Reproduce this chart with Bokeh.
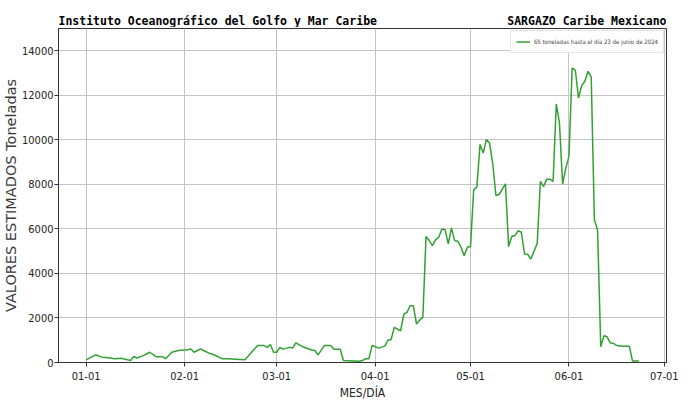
import datetime as dt
from bokeh.plotting import figure
from bokeh.layouts import column
from bokeh.models import (Range1d, Label, MonthsTicker, DatetimeTickFormatter,
                          FixedTicker, BasicTickFormatter, ColumnDataSource)
from bokeh.embed import file_html
from bokeh.resources import INLINE

# Days since 2024-01-01 and estimated tonnes
day_offsets = [0, 3, 5, 7, 9, 11, 14, 15, 16, 18, 20, 22, 24, 25, 27, 29, 32, 33, 34, 36,
               37, 39, 40, 43, 45, 47, 50, 54, 56, 57, 58, 59, 60, 61, 62, 64, 65, 66, 68, 71,
               72, 73, 75, 77, 78, 80, 81, 86, 87, 88, 89, 90, 91, 92, 94, 95, 96, 97, 99, 100,
               101, 102, 103, 104, 105, 106, 107, 108, 109, 110, 111, 112, 113, 114, 115, 116, 117, 118, 119, 120,
               121, 122, 123, 124, 125, 126, 127, 128, 129, 130, 132, 133, 134, 135, 136, 137, 138, 139, 140, 142,
               143, 144, 145, 146, 147, 148, 149, 150, 151, 152, 153, 154, 155, 156, 157, 158, 159, 160, 161, 162,
               163, 164, 165, 166, 167, 169, 171, 172, 174]
tonnes = [120, 345, 240, 210, 170, 190, 90, 270, 200, 310, 460, 260, 260, 170, 460, 540, 570, 610, 460, 610,
          540, 400, 360, 165, 165, 150, 120, 760, 760, 680, 810, 460, 460, 680, 600, 680, 650, 880, 720, 560,
          540, 340, 760, 760, 600, 600, 90, 60, 90, 170, 170, 760, 710, 645, 735, 1000, 1035, 1575, 1425, 2175,
          2250, 2550, 2550, 1725, 1905, 2025, 5655, 5475, 5250, 5505, 5625, 6000, 5970, 5325, 6045, 5475, 5450, 5175, 4800, 5175,
          5205, 7755, 7875, 9795, 9405, 10020, 9855, 8925, 7500, 7545, 8025, 5205, 5655, 5700, 5925, 5850, 4875, 4860, 4650, 5355,
          8130, 7905, 8235, 8235, 8130, 11610, 10755, 8010, 8730, 9255, 13230, 13125, 11880, 12435, 12630, 13080, 12825, 6405, 5955, 705,
          1200, 1155, 885, 855, 765, 735, 735, 65, 65]
y_ticks = [0, 2000, 4000, 6000, 8000, 10000, 12000, 14000]
title_left = "Instituto Oceanográfico del Golfo y Mar Caribe"
title_right = "SARGAZO Caribe Mexicano"
legend_text = "65 toneladas hasta el día 23 de junio de 2024"

start = dt.datetime(2024, 1, 1)
dates = [start + dt.timedelta(days=d) for d in day_offsets]
src = ColumnDataSource(dict(x=dates, y=tonnes))

NARROW = "'DejaVu Sans Condensed', 'Liberation Sans Narrow', sans-serif"
MONO = "'DejaVu Sans Mono', monospace"

W = 689
HEADER_H = 27

# ---- header with the two titles (frame aligned with the chart frame) ----
head = figure(width=W, height=HEADER_H, output_backend="svg", toolbar_location=None,
              x_range=Range1d(0, 1), y_range=Range1d(0, HEADER_H),
              min_border=0, outline_line_color=None)
head.axis.visible = False
head.grid.visible = False
head.add_layout(Label(x=0, y=7, text=title_left, text_align="left",
                      text_baseline="alphabetic", text_font=MONO, text_font_size="11.5px",
                      text_font_style="bold", text_color="black"))
head.add_layout(Label(x=1, y=7, text=title_right, text_align="right",
                      text_baseline="alphabetic", text_font=MONO, text_font_size="11.5px",
                      text_font_style="bold", text_color="black"))

# ---- main chart ----
p = figure(width=W, height=376, output_backend="svg", toolbar_location=None,
           x_axis_type="datetime",
           x_range=Range1d(start - dt.timedelta(days=8.7), start + dt.timedelta(days=182.7)),
           y_range=Range1d(0, 15000),
           min_border_left=57, min_border_right=23, min_border_top=1, min_border_bottom=41)

p.line("x", "y", source=src, line_color="#33a033", line_width=1.5, legend_label=legend_text)

p.xaxis.ticker = MonthsTicker(months=list(range(1, 13)))
p.xaxis.formatter = DatetimeTickFormatter(days="%m-%d", months="%m-%d", years="%m-%d")
p.yaxis.ticker = FixedTicker(ticks=y_ticks)
p.yaxis.formatter = BasicTickFormatter(use_scientific=False)

p.xaxis.axis_label = "MES/DÍA"
p.yaxis.axis_label = "VALORES ESTIMADOS Toneladas"
for ax in (p.xaxis, p.yaxis):
    ax.major_label_text_font = NARROW
    ax.major_label_text_font_size = "11px"
    ax.major_label_text_color = "#222222"
    ax.axis_line_color = "#333333"
    ax.major_tick_line_color = "#333333"
    ax.major_tick_out = 4
    ax.major_tick_in = 0
    ax.minor_tick_line_color = None
p.xaxis.major_label_standoff = 5
p.xaxis.axis_label_standoff = 3
p.yaxis.major_label_standoff = 1
p.yaxis.axis_label_standoff = 0

p.xaxis.axis_label_text_font = NARROW
p.xaxis.axis_label_text_font_size = "12px"
p.xaxis.axis_label_text_font_style = "normal"
p.xaxis.axis_label_text_color = "#222222"
p.yaxis.axis_label_text_font = "DejaVu Sans"
p.yaxis.axis_label_text_font_size = "14.5px"
p.yaxis.axis_label_text_font_style = "normal"
p.yaxis.axis_label_text_color = "#3a3a3a"

p.grid.grid_line_color = "#c4c4c4"
p.grid.grid_line_width = 1
p.outline_line_color = "#333333"

p.legend.location = "top_right"
p.legend.label_text_font = NARROW
p.legend.label_text_font_size = "6px"
p.legend.glyph_width = 14
p.legend.glyph_height = 11
p.legend.label_standoff = 4
p.legend.padding = 5
p.legend.margin = 2
p.legend.border_line_color = "#cccccc"
p.legend.background_fill_alpha = 0.9

layout = column(head, p, spacing=0)
open("out.html", "w").write(file_html(layout, INLINE))
